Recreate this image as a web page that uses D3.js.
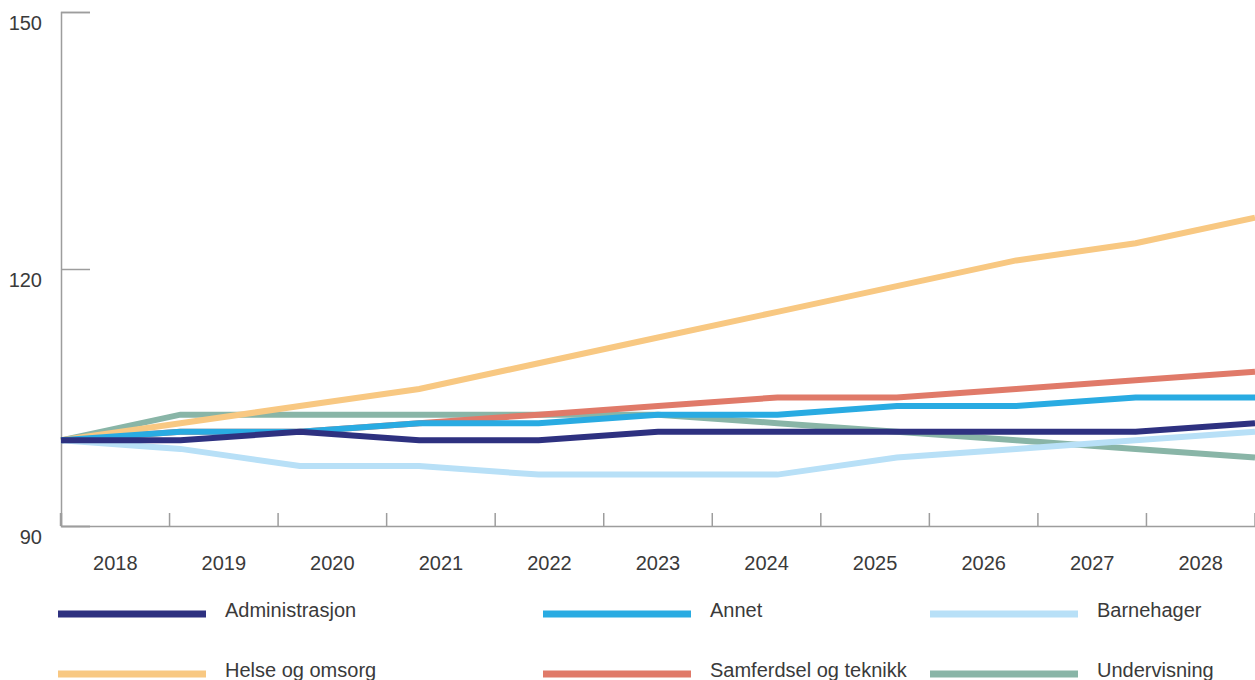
<!DOCTYPE html>
<html>
<head>
<meta charset="utf-8">
<script src="https://cdn.jsdelivr.net/npm/d3@7/dist/d3.min.js"></script>
<style>
  html, body { margin: 0; padding: 0; background: #fff; }
  svg { display: block; }
  text { font-family: "Liberation Sans", Arial, Helvetica, sans-serif; fill: #3a3a3a; }
</style>
</head>
<body>
<svg id="chart" width="1255" height="680"></svg>
<script>
// Index values (2018 = 100) per sector
const years = ["2018", "2019", "2020", "2021", "2022", "2023", "2024", "2025", "2026", "2027", "2028"];
const administrasjon = [100, 100, 101, 100, 100, 101, 101, 101, 101, 101, 102];
const annet          = [100, 101, 101, 102, 102, 103, 103, 104, 104, 105, 105];
const barnehager     = [100, 99, 97, 97, 96, 96, 96, 98, 99, 100, 101];
const helseOgOmsorg  = [100, 102, 104, 106, 109, 112, 115, 118, 121, 123, 126];
const samferdsel     = [100, 101, 101, 102, 103, 104, 105, 105, 106, 107, 108];
const undervisning   = [100, 103, 103, 103, 103, 103, 102, 101, 100, 99, 98];
const yTicks = [90, 120, 150];

const seriesNames = ["Administrasjon", "Annet", "Barnehager", "Helse og omsorg", "Samferdsel og teknikk", "Undervisning"];
const seriesValues = [administrasjon, annet, barnehager, helseOgOmsorg, samferdsel, undervisning];
const seriesColors = ["#2e3180", "#29abe2", "#b8e0f7", "#f8c882", "#e07a69", "#89b5a7"];

const series = seriesNames.map((name, i) => ({ name, color: seriesColors[i], values: seriesValues[i] }));

const svg = d3.select("#chart");
const plotLeft = 61, plotRight = 1255, plotTop = 12, plotBottom = 526;
const axisColor = "#9d9d9d";

const xBand = d3.scaleBand().domain(years).range([plotLeft, plotRight]);
const xPoint = d3.scalePoint().domain(years).range([plotLeft, plotRight]);
const y = d3.scaleLinear().domain([90, 150]).range([plotBottom, plotTop]);

// Y axis: ticks point inward, labels sit just below each tick
const yAxis = svg.append("g")
  .attr("transform", `translate(${plotLeft},0)`)
  .call(d3.axisLeft(y).tickValues(yTicks).tickSize(-29).tickPadding(19).tickFormat(d3.format("d")));
yAxis.select(".domain").attr("stroke", axisColor).attr("stroke-width", 1.5);
yAxis.selectAll(".tick line").attr("stroke", axisColor).attr("stroke-width", 1.5);
yAxis.selectAll(".tick text")
  .attr("y", 11).attr("dy", "0.32em")
  .style("font-size", "20px").style("font-family", "Liberation Sans, Arial, sans-serif").attr("fill", "#3a3a3a");

// X axis: labels centred in each year band, tick marks on band edges
const xAxis = svg.append("g")
  .attr("transform", `translate(0,${plotBottom})`)
  .call(d3.axisBottom(xBand).tickSize(0).tickPadding(30).tickSizeOuter(0));
xAxis.select(".domain").attr("stroke", axisColor).attr("stroke-width", 1.5);
xAxis.selectAll(".tick text")
  .style("font-size", "20px").style("font-family", "Liberation Sans, Arial, sans-serif").attr("fill", "#3a3a3a");

const edges = years.map(d => xBand(d)).concat([xBand.range()[1]]);
xAxis.selectAll("line.edge")
  .data(edges)
  .join("line")
  .attr("class", "edge")
  .attr("x1", d => d).attr("x2", d => d)
  .attr("y1", 0).attr("y2", -13)
  .attr("stroke", axisColor)
  .attr("stroke-width", (d, i) => i === 0 ? 2.5 : 1.5);

// Lines, last legend entry drawn first
const line = d3.line()
  .x((d, i) => xPoint(years[i]))
  .y(d => y(d));

svg.append("g")
  .selectAll("path")
  .data(series.slice().reverse())
  .join("path")
  .attr("d", d => line(d.values))
  .attr("fill", "none")
  .attr("stroke", d => d.color)
  .attr("stroke-width", 6);

// Legend: three columns, two rows
const colX = [58, 543, 930];
const rowY = [614, 674];
const legend = svg.append("g")
  .selectAll("g")
  .data(series)
  .join("g")
  .attr("transform", (d, i) => `translate(${colX[i % 3]},${rowY[Math.floor(i / 3)]})`);
legend.append("line")
  .attr("x1", 0).attr("x2", 148)
  .attr("y1", 0).attr("y2", 0)
  .attr("stroke", d => d.color)
  .attr("stroke-width", 7);
legend.append("text")
  .attr("x", 167).attr("y", 3)
  .style("font-size", "20px")
  .text(d => d.name);
</script>
</body>
</html>
